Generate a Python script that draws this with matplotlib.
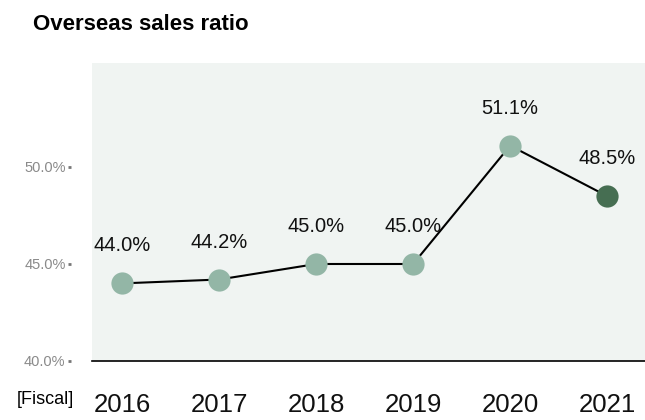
import matplotlib
matplotlib.use("Agg")
import matplotlib.pyplot as plt

plt.rcParams['font.family'] = ['Liberation Sans', 'DejaVu Sans']

# overseas sales ratio by fiscal year (%)
years = ['2016', '2017', '2018', '2019', '2020', '2021']
ratios = [44.0, 44.2, 45.0, 45.0, 51.1, 48.5]
ytick_vals = [40, 45, 50]
ytick_labels = ['40.0%', '45.0%', '50.0%']

light = '#93b6a6'
dark = '#466e52'
panel = '#f0f4f2'

fig = plt.figure(figsize=(6.45, 4.2), dpi=100)
ax = fig.add_axes([92 / 645, 59 / 420, 553 / 645, 298 / 420])
ax.set_facecolor(panel)

x = list(range(len(years)))
ax.plot(x, ratios, color='black', lw=1.5, zorder=2)
for i, v in enumerate(ratios):
    c = dark if i == len(ratios) - 1 else light
    ax.plot(i, v, 'o', ms=16, color=c, mec='none', zorder=3)
    ax.annotate(f'{v:.1f}%', (i, v), xytext=(0, 27), textcoords='offset points',
                ha='center', va='center', fontsize=14.5, color='#111111')

ax.set_xlim(-0.31, 5.39)
ax.set_ylim(40, 55.36)

for s in ['top', 'right']:
    ax.spines[s].set_visible(False)
# y ticks sit a little left of the shaded panel
ax.spines['left'].set_position(('outward', 15))
ax.spines['left'].set_visible(False)
ax.spines['bottom'].set_linewidth(1.2)

ax.set_yticks(ytick_vals)
ax.set_yticklabels(ytick_labels)
ax.tick_params(axis='y', length=2, width=2, color='#777777', pad=2,
               labelsize=10.5, labelcolor='#8a8a8a')

ax.set_xticks(x)
ax.set_xticklabels(years)
ax.tick_params(axis='x', length=0, pad=23, labelsize=18.5, labelcolor='#111111')

fig.text(45 / 645, 1 - 400 / 420, '[Fiscal]', ha='center', va='center', fontsize=13)
fig.text(33 / 645, 1 - 24 / 420, 'Overseas sales ratio', ha='left', va='center',
         fontsize=16, fontweight='bold')

fig.savefig('out.png', dpi=100)
